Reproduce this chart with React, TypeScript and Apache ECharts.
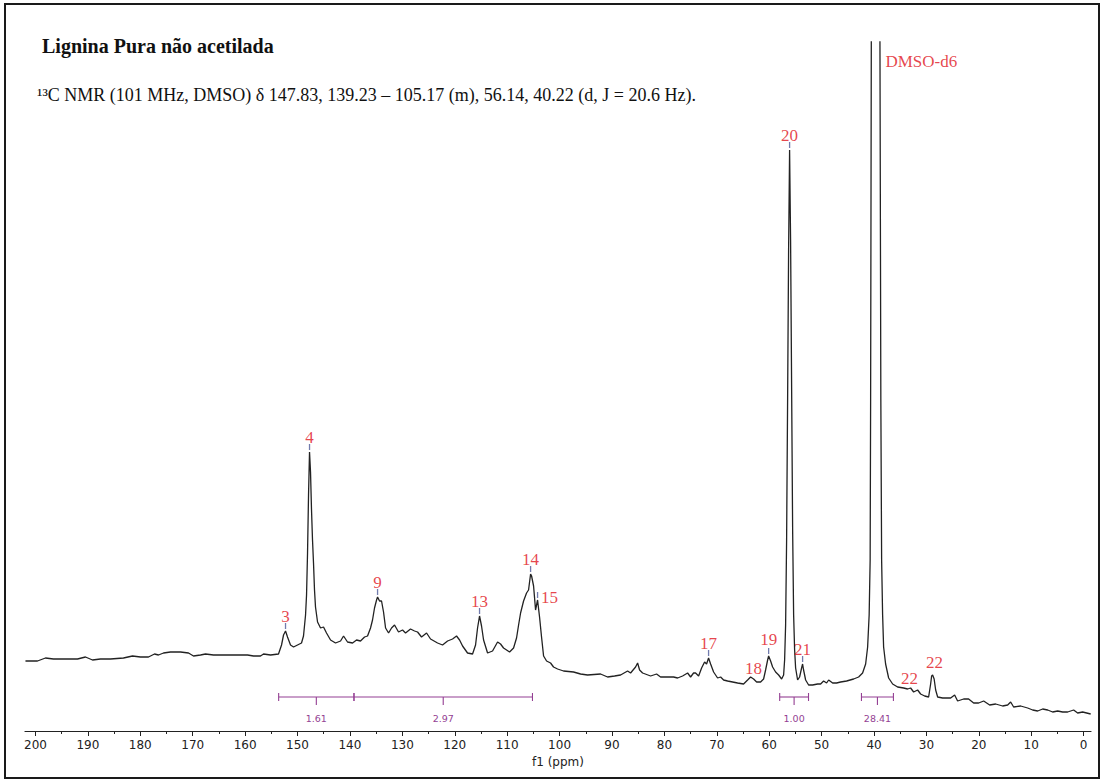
import React, { useEffect, useRef } from "react";
import * as echarts from "echarts";

// 13C NMR spectrum of non-acetylated lignin (DMSO-d6), chemical shift in ppm
const shiftPpm = [
  201.91, 199.62, 198.09, 196.57, 193.89, 191.98, 190.46, 189.12, 187.6, 185.69,
  183.21, 181.49, 179.96, 178.44, 177.29, 176.53, 175.57, 174.24, 172.33, 170.8,
  169.85, 168.51, 167.56, 166.03, 164.69, 162.79, 160.88, 159.54, 158.4, 157.06,
  156.49, 155.15, 153.63, 153.05, 152.67, 152.29, 151.91, 151.34, 150.76, 150.0,
  149.24, 148.86, 148.47, 148.28, 148.09, 147.9, 147.71, 147.52, 147.33, 147.14,
  146.95, 146.76, 146.57, 146.18, 145.61, 145.04, 144.47, 143.7, 142.75, 141.79,
  141.22, 140.46, 139.5, 138.74, 137.98, 137.21, 136.64, 136.07, 135.69, 135.31,
  134.92, 134.73, 134.35, 133.97, 133.59, 133.2, 132.63, 132.06, 131.49, 130.73,
  129.96, 129.39, 128.44, 127.67, 127.1, 126.34, 125.38, 124.62, 123.28, 122.33,
  121.37, 120.42, 119.66, 119.08, 118.51, 117.56, 116.6, 116.03, 115.65, 115.27,
  114.89, 114.5, 113.74, 112.79, 111.83, 111.26, 110.69, 109.54, 108.78, 108.21,
  107.82, 107.44, 106.87, 106.3, 105.92, 105.53, 105.34, 104.96, 104.58, 104.2,
  103.82, 103.44, 103.05, 102.48, 101.72, 101.15, 100.38, 99.24, 97.33, 95.99,
  94.66, 92.18, 90.84, 89.5, 88.36, 87.02, 86.45, 85.5, 85.11, 84.73,
  84.16, 82.63, 81.49, 80.73, 79.39, 78.24, 77.48, 76.53, 75.57, 75.0,
  74.43, 74.05, 73.47, 72.9, 72.33, 71.95, 71.57, 71.18, 70.61, 69.85,
  69.27, 68.7, 67.94, 66.98, 66.03, 64.89, 64.12, 63.55, 62.98, 62.4,
  61.64, 61.07, 60.69, 60.3, 60.11, 59.73, 59.35, 58.78, 58.2, 57.63,
  57.25, 57.06, 56.87, 56.68, 56.49, 56.3, 56.11, 55.92, 55.72, 55.53,
  55.34, 55.15, 54.96, 54.58, 54.2, 53.82, 53.63, 53.44, 53.05, 52.48,
  51.72, 50.76, 50.19, 49.62, 49.05, 48.66, 47.9, 47.14, 46.37, 45.23,
  43.89, 42.94, 42.18, 41.6, 41.22, 40.93, 40.74, 40.65, 40.52, 40.17,
  39.69, 39.22, 38.87, 38.7, 38.55, 38.36, 38.17, 37.79, 37.21, 36.45,
  35.5, 34.35, 33.59, 33.02, 32.44, 31.68, 31.11, 30.34, 29.58, 29.2,
  29.01, 28.82, 28.53, 28.24, 27.86, 26.91, 25.38, 24.62, 24.05, 22.9,
  21.95, 20.99, 20.04, 19.08, 17.94, 16.79, 15.46, 14.5, 13.93, 13.36,
  12.02, 10.69, 9.73, 8.78, 7.82, 6.87, 5.92, 4.96, 4.01, 3.05,
  1.91, 1.15, 0.19, -1.34,
];

// Signal intensity (arbitrary units)
const intensity = [
  70, 70, 73, 72, 72, 72, 74, 71, 72, 72,
  73, 75, 74, 74, 77, 76, 78, 79, 79, 78,
  75, 76, 77, 76, 76, 76, 76, 76, 75, 75,
  77, 76, 77, 86, 96, 100, 94, 86, 84, 86,
  88, 95, 116, 136, 178, 236, 279, 259, 221, 191,
  168, 141, 124, 109, 103, 104, 98, 91, 88, 90,
  95, 89, 88, 91, 90, 94, 95, 103, 111, 123,
  131, 134, 130, 130, 119, 103, 98, 103, 106, 99,
  101, 98, 102, 100, 99, 94, 98, 92, 88, 86,
  90, 92, 95, 91, 85, 78, 77, 86, 103, 115,
  105, 91, 78, 80, 89, 87, 83, 79, 83, 93,
  106, 118, 130, 138, 141, 157, 155, 145, 121, 131,
  114, 94, 75, 70, 68, 64, 62, 60, 59, 57,
  56, 57, 54, 55, 56, 60, 58, 64, 68, 61,
  58, 55, 57, 54, 54, 54, 53, 55, 58, 54,
  58, 58, 55, 63, 69, 67, 73, 67, 59, 53,
  54, 51, 50, 49, 48, 47, 51, 54, 52, 49,
  49, 52, 61, 71, 75, 70, 64, 59, 56, 52,
  56, 71, 106, 191, 331, 481, 581, 491, 341, 201,
  116, 81, 63, 51, 54, 63, 67, 61, 51, 46,
  46, 47, 47, 50, 48, 51, 48, 48, 49, 50,
  52, 54, 58, 67, 84, 116, 171, 331, 689, 1500,
  3200, 1500, 689, 331, 171, 116, 84, 67, 53, 47,
  44, 43, 42, 43, 39, 41, 37, 35, 34, 47,
  55, 56, 52, 41, 34, 33, 33, 36, 30, 32,
  32, 28, 28, 30, 26, 27, 25, 26, 29, 24,
  25, 23, 21, 20, 22, 21, 19, 20, 19, 19,
  21, 18, 19, 17,
];

// Picked peaks (numbered, with a peak-pick marker)
const peakNames = ["3", "4", "9", "13", "14", "15", "17", "19", "20", "21"];
const peakPpm = [152.29, 147.71, 134.73, 115.27, 105.53, 104.2, 71.57, 60.11, 56.11, 53.63];
const peakHeight = [100, 279, 134, 115, 157, 131, 73, 75, 581, 67];

// Further assignments without a marker
const noteNames = ["18", "22", "22", "DMSO-d6"];
const notePpm = [63.55, 33.02, 28.82, 38.87];
const noteHeight = [54, 43, 56, 670];

// Integration regions
const integralFrom = [153.6, 139.23, 58.0, 42.4];
const integralTo = [139.23, 105.17, 52.5, 36.3];
const integralValues = ["1.61", "2.97", "1.00", "28.41"];

const ppmTicks = [200, 190, 180, 170, 160, 150, 140, 130, 120, 110, 100, 90, 80, 70, 60, 50, 40, 30, 20, 10, 0];

const TITLE = "Lignina Pura não acetilada";
const SUBTITLE =
  "¹³C NMR (101 MHz, DMSO) δ 147.83, 139.23 – 105.17 (m), 56.14, 40.22 (d, J = 20.6 Hz).";

const INTEGRAL_LEVEL = 34; // intensity level at which integral bars sit
const RED = "#e0141c";
const PURPLE = "#943f93";
const SERIF = "'Liberation Serif', 'Times New Roman', serif";
const SANS = "'DejaVu Sans', Verdana, sans-serif";

// label placement per note (style only)
const noteLabelStyle: any[] = [
  { position: "top", distance: 0, offset: [3, 0] },
  { position: "top", distance: 1, offset: [-1, 0] },
  { position: "top", distance: 4, offset: [2, 0] },
  { position: "right", distance: 5, offset: [0, 0] },
];
const peakLabelStyle: Record<string, any> = {
  "15": { position: "right", distance: 3, offset: [0, -3] },
  "19": { distance: 8 },
};

export default function App() {
  const ref = useRef<HTMLDivElement>(null);

  useEffect(() => {
    if (!ref.current) return;
    const chart = echarts.init(ref.current, undefined, { renderer: "svg" });

    const spectrum = shiftPpm.map((p, i) => [p, intensity[i]]);
    const peaks = peakPpm.map((p, i) => [p, peakHeight[i]]);

    const option: any = {
      animation: false,
      backgroundColor: "#ffffff",
      title: [
        {
          text: TITLE,
          left: 42,
          top: 36,
          padding: 0,
          textStyle: { fontFamily: SERIF, fontWeight: "bold", fontSize: 20, color: "#111" },
        },
        {
          text: SUBTITLE,
          left: 37,
          top: 86,
          padding: 0,
          textStyle: { fontFamily: SERIF, fontWeight: "normal", fontSize: 18, color: "#111" },
        },
      ],
      grid: { left: 25, right: 13, top: 42, bottom: 52 },
      xAxis: {
        type: "value",
        inverse: true,
        min: -1.4,
        max: 202,
        splitNumber: 20,
        name: "f1 (ppm)",
        nameLocation: "middle",
        nameGap: 25,
        nameTextStyle: { fontFamily: SANS, fontSize: 12, color: "#222" },
        axisLine: { onZero: false, lineStyle: { color: "#222", width: 1.2 } },
        axisTick: { customValues: ppmTicks, length: 5, lineStyle: { color: "#222", width: 1 } },
        minorTick: { show: true, splitNumber: 2, length: 3, lineStyle: { color: "#222", width: 1 } },
        axisLabel: { customValues: ppmTicks, margin: 8, fontFamily: SANS, fontSize: 12, color: "#222" },
        splitLine: { show: false },
      },
      yAxis: { type: "value", min: 0, max: 689, show: false },
      graphic: [
        {
          type: "rect",
          shape: { x: 5, y: 4, width: 1094, height: 774 },
          style: { fill: "none", stroke: "#1a1a1a", lineWidth: 2 },
          silent: true,
        },
      ],
      series: [
        {
          type: "line",
          data: spectrum,
          symbol: "none",
          clip: true,
          lineStyle: { color: "#222222", width: 1.3 },
          z: 3,
        },
        {
          type: "scatter",
          data: peaks,
          symbol: "rect",
          symbolSize: [1.3, 6],
          symbolOffset: [0, -5],
          itemStyle: { color: "#4d5a98" },
          z: 4,
        },
        {
          type: "scatter",
          data: peaks.map((v, i) => ({
            value: v,
            name: peakNames[i],
            label: peakLabelStyle[peakNames[i]] || {},
          })),
          symbolSize: 1,
          itemStyle: { color: "rgba(0,0,0,0)" },
          label: {
            show: true,
            position: "top",
            distance: 6,
            formatter: (p: any) => p.name,
            fontFamily: SERIF,
            fontSize: 17,
            color: RED,
          },
          z: 5,
        },
        {
          type: "scatter",
          data: notePpm.map((p, i) => ({
            value: [p, noteHeight[i]],
            name: noteNames[i],
            label: noteLabelStyle[i],
          })),
          symbolSize: 1,
          itemStyle: { color: "rgba(0,0,0,0)" },
          label: {
            show: true,
            formatter: (p: any) => p.name,
            fontFamily: SERIF,
            fontSize: 17,
            color: RED,
          },
          z: 5,
        },
        {
          type: "custom",
          data: integralFrom.map((f, i) => [f, integralTo[i], i]),
          encode: { x: [0, 1] },
          renderItem: (params: any, api: any) => {
            const a = api.coord([api.value(0), INTEGRAL_LEVEL]);
            const b = api.coord([api.value(1), INTEGRAL_LEVEL]);
            const y = a[1];
            const mx = (a[0] + b[0]) / 2;
            const st = { stroke: PURPLE, lineWidth: 1.1 };
            return {
              type: "group",
              children: [
                { type: "line", shape: { x1: a[0], y1: y, x2: b[0], y2: y }, style: st },
                { type: "line", shape: { x1: a[0], y1: y - 4, x2: a[0], y2: y + 4 }, style: st },
                { type: "line", shape: { x1: b[0], y1: y - 4, x2: b[0], y2: y + 4 }, style: st },
                { type: "line", shape: { x1: mx, y1: y, x2: mx, y2: y + 8 }, style: st },
                {
                  type: "text",
                  x: mx,
                  y: y + 21,
                  style: {
                    text: integralValues[params.dataIndex],
                    fill: PURPLE,
                    fontFamily: SANS,
                    fontSize: 9.5,
                    align: "center",
                    verticalAlign: "middle",
                  },
                },
              ],
            };
          },
          z: 2,
        },
      ],
    };

    chart.setOption(option);
    return () => chart.dispose();
  }, []);

  return (
    <div
      ref={ref}
      style={{ position: "absolute", left: 0, top: 0, width: 1104, height: 783, background: "#fff" }}
    />
  );
}
